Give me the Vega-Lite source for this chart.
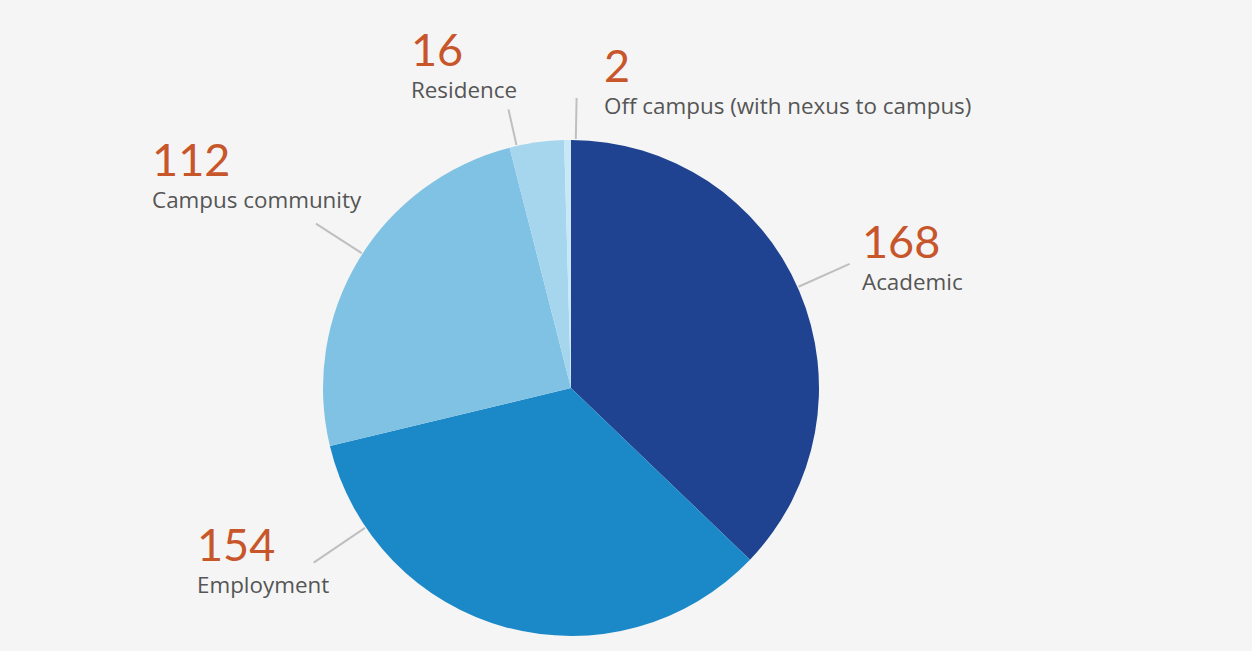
{
  "$schema": "https://vega.github.io/schema/vega-lite/v6.json",
  "width": 1142,
  "height": 526,
  "autosize": "none",
  "padding": {"left": 0, "right": 110, "top": 125, "bottom": 0},
  "background": "#f5f5f5",
  "config": {"view": {"stroke": null}},
  "data": {
    "values": [
      {"cat": "Academic", "value": 168, "rank": 1},
      {"cat": "Employment", "value": 154, "rank": 2},
      {"cat": "Campus community", "value": 112, "rank": 3},
      {"cat": "Residence", "value": 16, "rank": 4},
      {"cat": "Off campus (with nexus to campus)", "value": 2, "rank": 5}
    ]
  },
  "encoding": {
    "theta": {"field": "value", "type": "quantitative", "stack": true},
    "order": {"field": "rank", "type": "quantitative"}
  },
  "layer": [
    {
      "mark": {"type": "arc", "radius": 248},
      "encoding": {
        "color": {
          "field": "cat",
          "type": "nominal",
          "scale": {
            "domain": ["Academic", "Employment", "Campus community", "Residence", "Off campus (with nexus to campus)"],
            "range": ["#1f4390", "#1b88c8", "#80c2e3", "#a6d6ee", "#c8e8f8"]
          },
          "legend": null
        }
      }
    },
    {
      "mark": {
        "type": "arc",
        "radius": {"expr": "[0,305,311,303.5,285.5,290][datum.rank]"},
        "radius2": 249,
        "padAngle": 3.1416,
        "filled": false,
        "stroke": "#bfbfbf",
        "strokeWidth": 2,
        "thetaOffset": {"expr": "[0,-0.0157,0.7103,0.0304,-0.0818,0.0332][datum.rank]"},
        "theta2Offset": {"expr": "[0,-0.0157,0.7103,0.0304,-0.0818,0.0332][datum.rank]"}
      }
    },
    {
      "mark": {
        "type": "text",
        "radius": {"expr": "[0,318.3,412.5,469.1,358.7,306.8][datum.rank]"},
        "thetaOffset": {"expr": "[0,-0.0142,0.8713,-0.0756,-0.3234,0.1218][datum.rank]"},
        "align": "left",
        "baseline": "alphabetic",
        "dy": -1,
        "font": "Lato",
        "fontSize": 45,
        "color": "#c8562b"
      },
      "encoding": {"text": {"field": "value", "type": "quantitative"}}
    },
    {
      "mark": {
        "type": "text",
        "radius": {"expr": "[0,318.3,412.5,469.1,358.7,306.8][datum.rank]"},
        "thetaOffset": {"expr": "[0,-0.0142,0.8713,-0.0756,-0.3234,0.1218][datum.rank]"},
        "align": "left",
        "baseline": "alphabetic",
        "dy": 31,
        "font": "Open Sans",
        "fontSize": 22.4,
        "color": "#555555"
      },
      "encoding": {"text": {"field": "cat", "type": "nominal"}}
    }
  ]
}
